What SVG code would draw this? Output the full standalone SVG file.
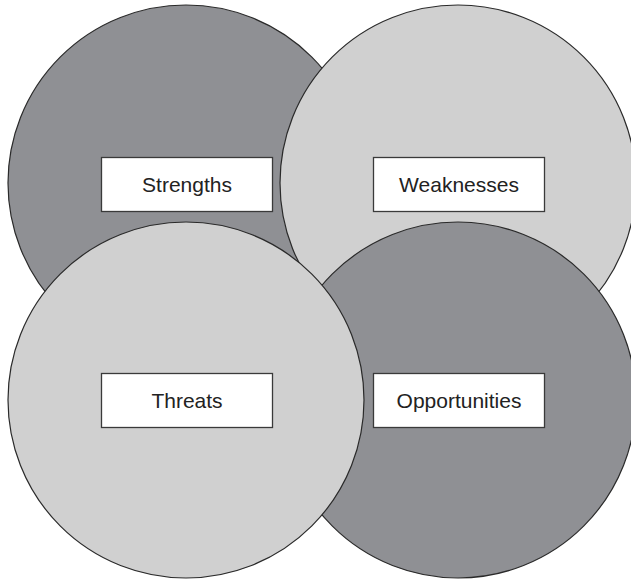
<svg xmlns="http://www.w3.org/2000/svg" width="631" height="580" viewBox="0 0 631 580">
<style>
.c{stroke:#2a2a2a;stroke-width:1.2}
.dark{fill:#8f9094}
.light{fill:#d0d0d0}
.box{fill:#ffffff;stroke:#3a3a3a;stroke-width:1.3}
.lbl{font-family:"Liberation Sans",Arial,Helvetica,sans-serif;font-size:21px;fill:#222;text-anchor:middle}
</style>
<rect width="631" height="580" fill="#ffffff"/>
<g id="strengths">
<circle class="c dark" cx="186" cy="183" r="178"/>
</g>
<g id="weaknesses">
<circle class="c light" cx="458" cy="183" r="178"/>
</g>
<g id="opportunities">
<circle class="c dark" cx="458" cy="400" r="178"/>
</g>
<g id="threats">
<circle class="c light" cx="186" cy="400" r="178"/>
</g>
<g id="labels">
<g id="label-strengths"><rect class="box" x="101.5" y="157.5" width="171" height="54"/><text class="lbl" x="187" y="192">Strengths</text></g>
<g id="label-weaknesses"><rect class="box" x="373.5" y="157.5" width="171" height="54"/><text class="lbl" x="459" y="192">Weaknesses</text></g>
<g id="label-threats"><rect class="box" x="101.5" y="373.5" width="171" height="54"/><text class="lbl" x="187" y="408">Threats</text></g>
<g id="label-opportunities"><rect class="box" x="373.5" y="373.5" width="171" height="54"/><text class="lbl" x="459" y="408">Opportunities</text></g>
</g>
<g id="connectors"></g>
</svg>
